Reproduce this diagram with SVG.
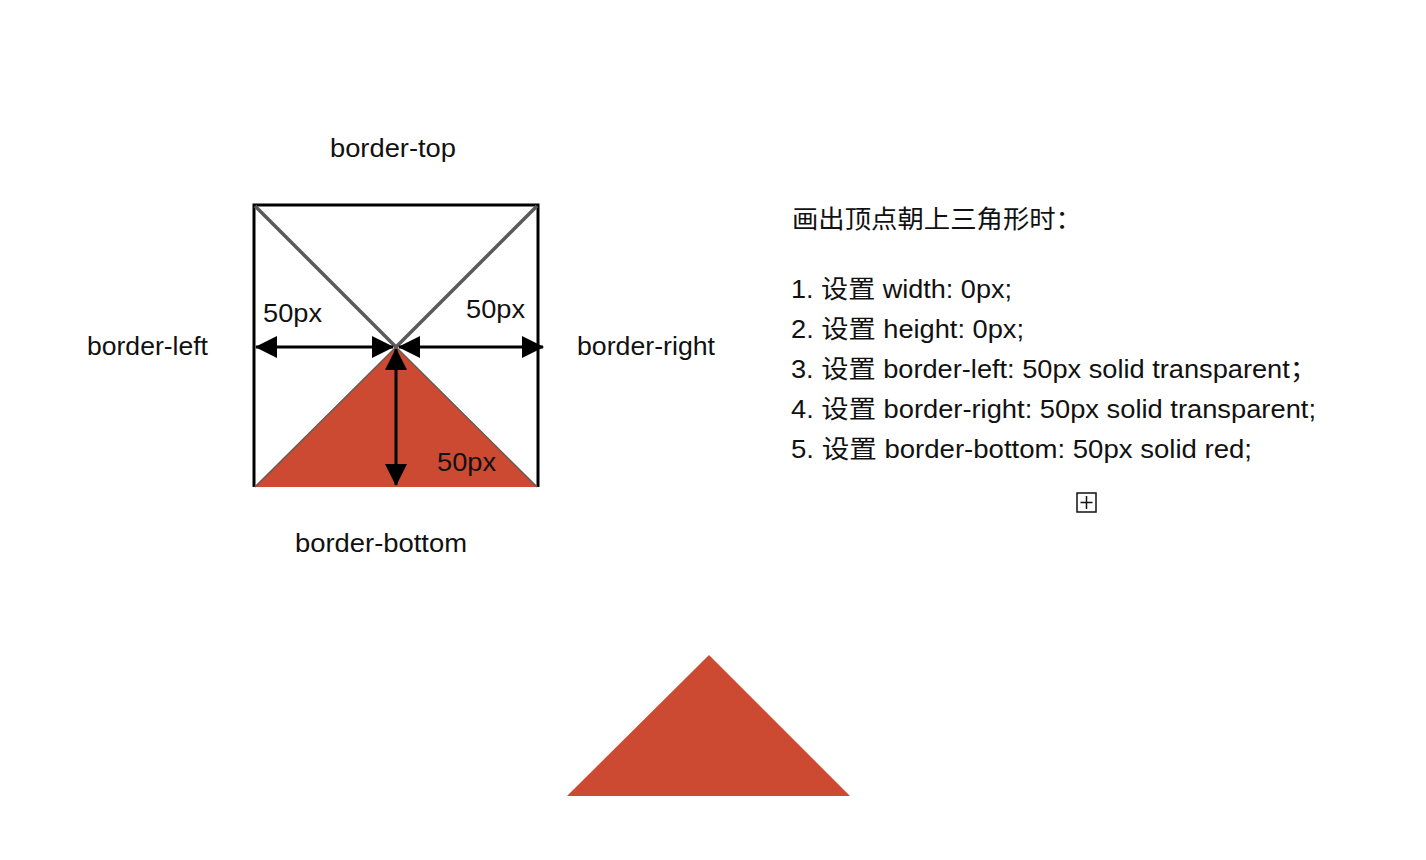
<svg xmlns="http://www.w3.org/2000/svg" width="1426" height="860" viewBox="0 0 1426 860">
<style>
.lbl{font-family:"Liberation Sans","Noto Sans CJK SC",sans-serif;font-size:25px;fill:#111;}
.cn{font-family:"Liberation Sans","Noto Sans CJK SC",sans-serif;font-size:25px;fill:#111;}
.red{fill:#CC4A32;}
.arrow{stroke:#000;stroke-width:3;fill:none;marker-start:url(#ah);marker-end:url(#ah);}
</style>
<defs>
<marker id="ah" markerUnits="userSpaceOnUse" markerWidth="22" markerHeight="22" viewBox="0 0 22 22" refX="21" refY="11" orient="auto-start-reverse">
<path d="M0,0 L22,11 L0,22 z" fill="#000"/>
</marker>
</defs>
<rect width="1426" height="860" fill="#fff"/>

<g id="box">
<path d="M254,487 L254,205 L538,205 L538,487" fill="none" stroke="#000" stroke-width="3"/>
<line x1="255" y1="206" x2="396" y2="347" stroke="#5a5a5a" stroke-width="3.5"/>
<line x1="537" y1="206" x2="396" y2="347" stroke="#5a5a5a" stroke-width="3.5"/>
<polygon class="red" points="254,487 396,347 538,487"/>
<path d="M255,487 L396,347 L537,487" fill="none" stroke="#6a5a55" stroke-width="1.5"/>
</g>

<g id="connectors">
<line class="arrow" x1="256" y1="347" x2="393" y2="347"/>
<line class="arrow" x1="399" y1="347" x2="543" y2="347"/>
<line class="arrow" x1="396" y1="349" x2="396" y2="485"/>
</g>

<g id="labels">
<text class="lbl" x="330" y="157" textLength="126" lengthAdjust="spacingAndGlyphs">border-top</text>
<text class="lbl" x="87" y="355" textLength="121" lengthAdjust="spacingAndGlyphs">border-left</text>
<text class="lbl" x="577" y="355" textLength="138" lengthAdjust="spacingAndGlyphs">border-right</text>
<text class="lbl" x="295" y="552" textLength="172" lengthAdjust="spacingAndGlyphs">border-bottom</text>
<text class="lbl" x="263" y="322" textLength="59" lengthAdjust="spacingAndGlyphs">50px</text>
<text class="lbl" x="466" y="318" textLength="59" lengthAdjust="spacingAndGlyphs">50px</text>
<text class="lbl" x="437" y="471" textLength="59" lengthAdjust="spacingAndGlyphs">50px</text>
</g>

<g id="notes">
<text class="cn" x="792" y="228" font-size="26" textLength="290" lengthAdjust="spacingAndGlyphs">画出顶点朝上三角形时：</text>
<text class="cn" x="791" y="298" textLength="221" lengthAdjust="spacingAndGlyphs">1. 设置 width: 0px;</text>
<text class="cn" x="791" y="338" textLength="233" lengthAdjust="spacingAndGlyphs">2. 设置 height: 0px;</text>
<text class="cn" x="791" y="378" textLength="526" lengthAdjust="spacingAndGlyphs">3. 设置 border-left: 50px solid transparent；</text>
<text class="cn" x="791" y="418" textLength="525" lengthAdjust="spacingAndGlyphs">4. 设置 border-right: 50px solid transparent;</text>
<text class="cn" x="791" y="458" textLength="461" lengthAdjust="spacingAndGlyphs">5. 设置 border-bottom: 50px solid red;</text>
</g>

<g id="icon">
<rect x="1077" y="493" width="19" height="19" fill="none" stroke="#111" stroke-width="1.5"/>
<line x1="1080.5" y1="502.5" x2="1092.5" y2="502.5" stroke="#111" stroke-width="1.5"/>
<line x1="1086.5" y1="496" x2="1086.5" y2="509" stroke="#111" stroke-width="1.5"/>
</g>

<g id="triangle">
<polygon class="red" points="709,655 567,796 850,796"/>
</g>
</svg>
